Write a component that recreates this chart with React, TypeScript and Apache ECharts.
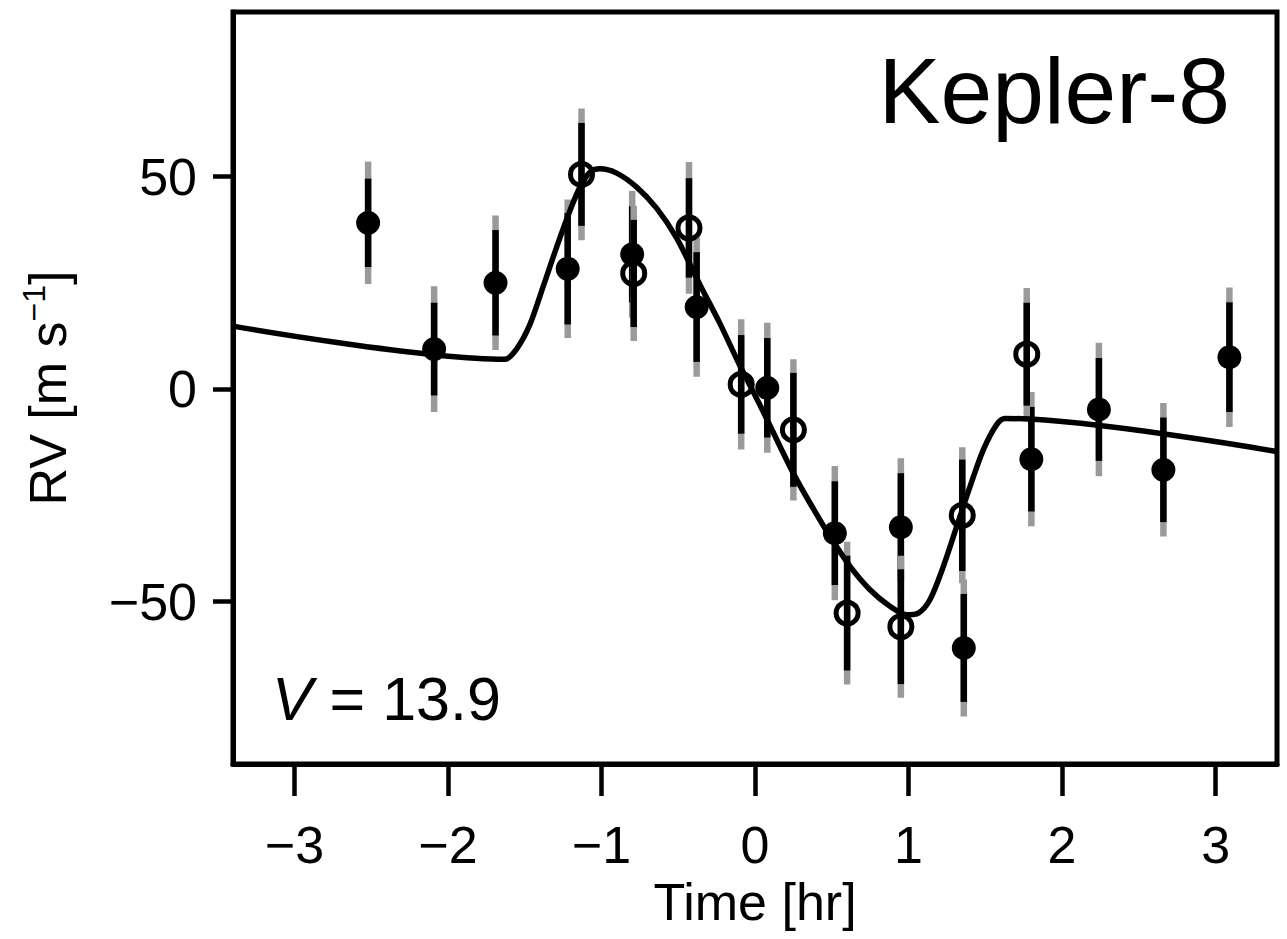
import React, { useEffect, useRef } from "react";
import * as echarts from "echarts";

// Filled points (one data set)
const timeFilled = [-2.52, -2.09, -1.69, -1.22, -0.8, -0.38, 0.08, 0.52, 0.95, 1.36, 1.8, 2.24, 2.66, 3.09];
const rvFilled = [39.1, 9.4, 25.0, 28.3, 31.7, 19.3, 0.3, -33.9, -32.5, -60.9, -16.5, -4.8, -19.0, 7.5];
const errFilledInner = [10.4, 10.9, 12.4, 13.1, 11.3, 12.9, 11.7, 12.2, 12.7, 12.7, 12.3, 12.1, 12.3, 12.9];
const errFilledOuter = [14.4, 14.8, 15.8, 16.3, 14.9, 16.4, 15.3, 15.8, 16.2, 16.1, 15.8, 15.7, 15.7, 16.4];

// Open points (second data set)
const timeOpen = [-1.13, -0.79, -0.43, -0.09, 0.25, 0.6, 0.95, 1.35, 1.77];
const rvOpen = [50.5, 27.2, 37.9, 1.1, -9.6, -52.7, -55.9, -29.7, 8.2];
const errOpenInner = [12.1, 12.6, 11.7, 11.6, 13.4, 13.5, 13.5, 13.1, 12.1];
const errOpenOuter = [15.5, 15.9, 15.5, 15.3, 16.6, 16.8, 16.7, 16.0, 15.6];

// Model curve
const modelTime = [
  -3.4, -1.63, -1.553, -1.466, -1.379, -1.292, -1.205, -1.14, -1.075, -1.01, -0.901, -0.771, -0.64,
  -0.51, -0.358, -0.228, -0.098, 0.033, 0.163, 0.261, 0.358, 0.489, 0.619, 0.749, 0.879, 0.988,
  1.064, 1.14, 1.227, 1.314, 1.401, 1.487, 1.575, 1.629, 3.4,
];
const modelRV = [
  14.8, 7.0, 9.4, 15.2, 24.2, 33.4, 42.0, 47.5, 51.0, 51.8, 50.8, 47.5, 42.5,
  35.5, 24.5, 15.4, 5.5, -3.8, -13.5, -20.6, -26.8, -34.7, -41.7, -47.2, -51.1, -53.1,
  -52.7, -49.5, -41.7, -32.3, -22.9, -14.3, -8.3, -6.9, -14.7,
];

const xTicks = [-3, -2, -1, 0, 1, 2, 3];
const yTicks = [-50, 0, 50];

const FONT = "'Liberation Sans', Arial, Helvetica, sans-serif";

export default function App() {
  const ref = useRef<HTMLDivElement>(null);

  useEffect(() => {
    if (!ref.current) return;
    const chart = echarts.init(ref.current, undefined, { renderer: "svg" });

    const errData: number[][] = [];
    timeFilled.forEach((t, i) => errData.push([t, rvFilled[i], errFilledInner[i], errFilledOuter[i]]));
    timeOpen.forEach((t, i) => errData.push([t, rvOpen[i], errOpenInner[i], errOpenOuter[i]]));

    const minus = (v: number) => String(v).replace("-", "\u2212");

    const option: any = {
      animation: false,
      backgroundColor: "#fff",
      grid: {
        left: 233,
        right: 10,
        top: 12,
        bottom: 175,
        show: true,
        borderColor: "#000",
        borderWidth: 5,
        backgroundColor: "#fff",
        containLabel: false,
        outerBoundsMode: "none",
      },
      xAxis: {
        type: "value",
        min: -3.4,
        max: 3.4,
        name: "Time [hr]",
        nameLocation: "middle",
        nameGap: 112,
        nameTextStyle: { fontSize: 52, color: "#000", fontFamily: FONT },
        axisLine: { show: true, onZero: false, lineStyle: { color: "#000", width: 5 } },
        axisTick: { show: true, length: 32, lineStyle: { color: "#000", width: 4.5 }, customValues: xTicks },
        axisLabel: {
          fontSize: 52,
          color: "#000",
          fontFamily: FONT,
          margin: 55,
          customValues: xTicks,
          formatter: (v: number) => minus(v),
        },
        splitLine: { show: false },
      },
      yAxis: {
        type: "value",
        min: -88.2,
        max: 88.7,
        name: "RV [m s{sup|\u22121}]",
        nameLocation: "middle",
        nameGap: 155,
        nameTextStyle: {
          fontSize: 52,
          color: "#000",
          fontFamily: FONT,
          lineHeight: 60,
          rich: {
            sup: { fontSize: 32, color: "#000", fontFamily: FONT, verticalAlign: "top", lineHeight: 60 },
          },
        },
        axisLine: { show: true, onZero: false, lineStyle: { color: "#000", width: 5 } },
        axisTick: { show: true, length: 20, lineStyle: { color: "#000", width: 4.5 }, customValues: yTicks },
        axisLabel: {
          fontSize: 52,
          color: "#000",
          fontFamily: FONT,
          margin: 36,
          customValues: yTicks,
          formatter: (v: number) => minus(v),
        },
        splitLine: { show: false },
      },
      series: [
        {
          type: "custom",
          name: "errors",
          data: errData,
          z: 2,
          renderItem: (params: any, api: any) => {
            const x = api.value(0);
            const y = api.value(1);
            const ei = api.value(2);
            const eo = api.value(3);
            const o1 = api.coord([x, y - eo]);
            const o2 = api.coord([x, y + eo]);
            const i1 = api.coord([x, y - ei]);
            const i2 = api.coord([x, y + ei]);
            return {
              type: "group",
              children: [
                {
                  type: "line",
                  shape: { x1: o1[0], y1: o1[1], x2: o2[0], y2: o2[1] },
                  style: { stroke: "#9a9a9a", lineWidth: 6.5 },
                },
                {
                  type: "line",
                  shape: { x1: i1[0], y1: i1[1], x2: i2[0], y2: i2[1] },
                  style: { stroke: "#000", lineWidth: 6.5 },
                },
              ],
            };
          },
        },
        {
          type: "line",
          name: "model",
          data: modelTime.map((t, i) => [t, modelRV[i]]),
          showSymbol: false,
          symbol: "none",
          smooth: 0.3,
          lineStyle: { color: "#000", width: 5.5 },
          z: 3,
        },
        {
          type: "scatter",
          name: "filled",
          data: timeFilled.map((t, i) => [t, rvFilled[i]]),
          symbol: "circle",
          symbolSize: 24,
          itemStyle: { color: "#000", opacity: 1 },
          z: 4,
        },
        {
          type: "scatter",
          name: "open",
          data: timeOpen.map((t, i) => [t, rvOpen[i]]),
          symbol: "circle",
          symbolSize: 22,
          itemStyle: { color: "transparent", borderColor: "#000", borderWidth: 5, opacity: 1 },
          z: 4,
        },
      ],
      graphic: [
        {
          type: "text",
          right: 57,
          top: 44,
          style: {
            text: "Kepler-8",
            fontSize: 93,
            fontFamily: FONT,
            fill: "#000",
          },
          z: 10,
        },
        {
          type: "text",
          left: 272,
          top: 668,
          style: {
            text: "{i|V} = 13.9",
            fontSize: 61,
            fontFamily: FONT,
            fill: "#000",
            rich: {
              i: { fontSize: 61, fontStyle: "italic", fontFamily: FONT, fill: "#000" },
            },
          },
          z: 10,
        },
      ],
    };

    chart.setOption(option);
    return () => chart.dispose();
  }, []);

  return (
    <div
      ref={ref}
      style={{ position: "absolute", left: 0, top: 0, width: 1287, height: 939, background: "#fff" }}
    />
  );
}
